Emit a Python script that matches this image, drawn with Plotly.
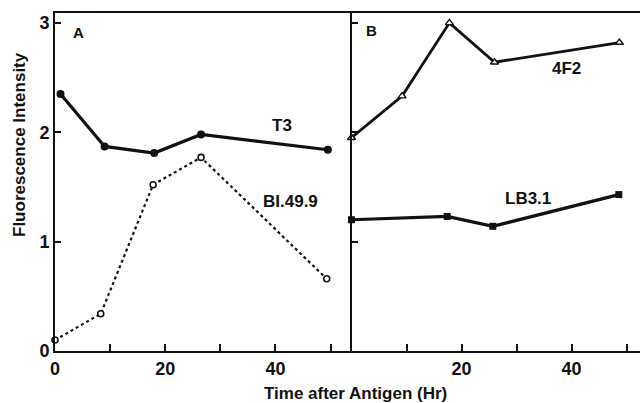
import plotly.graph_objects as go
from plotly.subplots import make_subplots

# Panel A
t3_x = [1, 9, 18, 26.5, 49.5]
t3_y = [2.35, 1.87, 1.81, 1.98, 1.84]
b1_x = [0, 8.3, 17.8, 26.5, 49.3]
b1_y = [0.10, 0.34, 1.52, 1.77, 0.66]
# Panel B
f2_x = [0, 9.2, 17.8, 26, 48.7]
f2_y = [1.95, 2.33, 3.00, 2.64, 2.82]
lb_x = [0, 17.4, 25.7, 48.6]
lb_y = [1.20, 1.23, 1.14, 1.43]

x_tickvals = [0, 10, 20, 30, 40, 50]
x_ticktext = ["0", "", "20", "", "40", ""]
xb_tickvals = [10, 20, 30, 40, 50]
xb_ticktext = ["", "20", "", "40", ""]
y_tickvals = [0, 1, 2, 3]
y_ticktext = ["0", "1", "2", "3"]

FONT = "Liberation Sans"
BLACK = "#111111"

fig = make_subplots(rows=1, cols=2, shared_yaxes=False, horizontal_spacing=0)

fig.add_trace(go.Scatter(x=t3_x, y=t3_y, mode="lines+markers",
                         line=dict(color=BLACK, width=3.2),
                         marker=dict(symbol="circle", size=8, color=BLACK),
                         cliponaxis=False, showlegend=False), row=1, col=1)
fig.add_trace(go.Scatter(x=b1_x, y=b1_y, mode="lines+markers",
                         line=dict(color=BLACK, width=2.2, dash="dot"),
                         marker=dict(symbol="circle", size=6, color="white",
                                     line=dict(color=BLACK, width=1.6)),
                         cliponaxis=False, showlegend=False), row=1, col=1)
fig.add_trace(go.Scatter(x=f2_x, y=f2_y, mode="lines+markers",
                         line=dict(color=BLACK, width=2.8),
                         marker=dict(symbol="triangle-up", size=7, color="white",
                                     line=dict(color=BLACK, width=1.4)),
                         cliponaxis=False, showlegend=False), row=1, col=2)
fig.add_trace(go.Scatter(x=lb_x, y=lb_y, mode="lines+markers",
                         line=dict(color=BLACK, width=3.2),
                         marker=dict(symbol="square", size=7, color=BLACK),
                         cliponaxis=False, showlegend=False), row=1, col=2)

W, H = 640, 403
ml, mr, mt, mb = 55, 0, 13, 52
split = (351.5 - ml) / (W - ml - mr)

axis_common = dict(showline=True, linecolor=BLACK, linewidth=2, ticks="inside",
                   tickcolor=BLACK, tickwidth=1.5, showgrid=False, zeroline=False,
                   tickfont=dict(family=FONT, size=18, color=BLACK, weight="bold"))

fig.update_xaxes(domain=[0, split], range=[0, 53.8], tickvals=x_tickvals,
                 ticktext=x_ticktext, ticklen=7, mirror=True, row=1, col=1, **axis_common)
fig.update_xaxes(domain=[split, 1], range=[0, 52.45], tickvals=xb_tickvals,
                 ticktext=xb_ticktext, ticklen=7, mirror=True, row=1, col=2, **axis_common)
fig.update_yaxes(range=[0, 3.09], tickvals=y_tickvals, ticktext=y_ticktext,
                 ticklen=6, row=1, col=1, **axis_common)
fig.update_yaxes(range=[0, 3.09], tickvals=[1, 2, 3], showticklabels=False,
                 ticklen=6, row=1, col=2, **axis_common)

labels = [
    ("x", "y", 4.2, 2.91, "<b>A</b>", 15),
    ("x", "y", 41.2, 2.06, "<b>T3</b>", 17),
    ("x", "y", 42.8, 1.37, "<b>BI.49.9</b>", 17),
    ("x2", "y2", 3.7, 2.93, "<b>B</b>", 15),
    ("x2", "y2", 39.0, 2.58, "<b>4F2</b>", 17),
    ("x2", "y2", 32.1, 1.39, "<b>LB3.1</b>", 17),
]
for xr, yr, x, y, t, s in labels:
    fig.add_annotation(xref=xr, yref=yr, x=x, y=y, text=t, showarrow=False,
                       font=dict(family=FONT, size=s, color=BLACK))

fig.add_annotation(xref="paper", yref="paper", x=(355 - ml) / (W - ml), y=-(393 - (H - mb)) / (H - mt - mb),
                   text="<b>Time after Antigen (Hr)</b>", showarrow=False,
                   font=dict(family=FONT, size=17, color=BLACK), yanchor="middle")
fig.add_annotation(xref="paper", yref="paper", x=-(ml - 19) / (W - ml), y=(H - mb - 145) / (H - mt - mb),
                   text="<b>Fluorescence Intensity</b>", showarrow=False, textangle=-90,
                   font=dict(family=FONT, size=17, color=BLACK), xanchor="center", yanchor="middle")

fig.update_layout(width=W, height=H, margin=dict(l=ml, r=mr, t=mt, b=mb),
                  plot_bgcolor="white", paper_bgcolor="white")

fig.write_html("out.html", config={"displayModeBar": False},
               post_script="document.body.style.margin='0';document.body.style.overflow='hidden';")
